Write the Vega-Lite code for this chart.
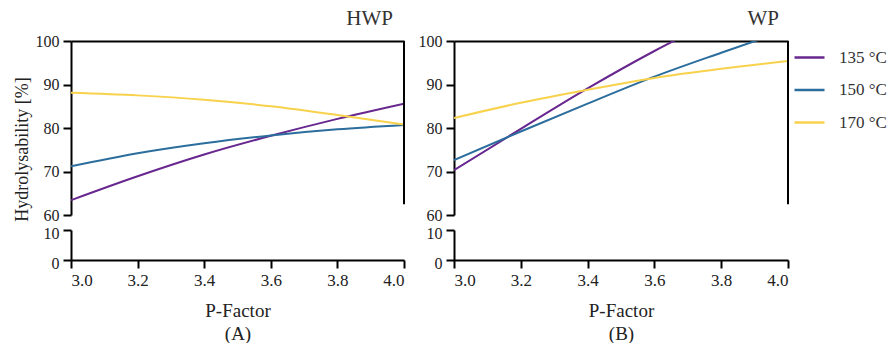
{
  "$schema": "https://vega.github.io/schema/vega-lite/v6.json",
  "padding": {"left": 13, "top": 8, "right": 0, "bottom": 0},
  "background": "white",
  "config": {
    "font": "Liberation Serif",
    "view": {"stroke": null},
    "axis": {"domainColor": "#000", "domainWidth": 2, "tickColor": "#000", "tickWidth": 2, "tickSize": 8, "labelFont": "Liberation Serif", "labelFontSize": 17, "labelColor": "#222", "titleFont": "Liberation Serif", "titleFontWeight": "normal", "titleColor": "#222", "grid": false, "labelPadding": 4},
    "title": {"font": "Liberation Serif", "fontSize": 21, "fontWeight": "normal", "color": "#333"},
    "legend": {"labelFont": "Liberation Serif"}
  },
  "datasets": {
    "d": [
      {"panel": "HWP", "temp": "135 °C", "p": 3.0, "value": 63.4},
      {"panel": "HWP", "temp": "135 °C", "p": 3.2, "value": 68.9},
      {"panel": "HWP", "temp": "135 °C", "p": 3.4, "value": 73.9},
      {"panel": "HWP", "temp": "135 °C", "p": 3.6, "value": 78.2},
      {"panel": "HWP", "temp": "135 °C", "p": 3.8, "value": 82.1},
      {"panel": "HWP", "temp": "135 °C", "p": 4.0, "value": 85.6},
      {"panel": "HWP", "temp": "150 °C", "p": 3.0, "value": 71.2},
      {"panel": "HWP", "temp": "150 °C", "p": 3.2, "value": 74.2},
      {"panel": "HWP", "temp": "150 °C", "p": 3.4, "value": 76.5},
      {"panel": "HWP", "temp": "150 °C", "p": 3.6, "value": 78.3},
      {"panel": "HWP", "temp": "150 °C", "p": 3.8, "value": 79.7},
      {"panel": "HWP", "temp": "150 °C", "p": 4.0, "value": 80.7},
      {"panel": "HWP", "temp": "170 °C", "p": 3.0, "value": 88.1},
      {"panel": "HWP", "temp": "170 °C", "p": 3.2, "value": 87.5},
      {"panel": "HWP", "temp": "170 °C", "p": 3.4, "value": 86.5},
      {"panel": "HWP", "temp": "170 °C", "p": 3.6, "value": 85.0},
      {"panel": "HWP", "temp": "170 °C", "p": 3.8, "value": 83.0},
      {"panel": "HWP", "temp": "170 °C", "p": 4.0, "value": 80.8},
      {"panel": "WP", "temp": "135 °C", "p": 3.0, "value": 70.3},
      {"panel": "WP", "temp": "135 °C", "p": 3.2, "value": 79.8},
      {"panel": "WP", "temp": "135 °C", "p": 3.4, "value": 89.1},
      {"panel": "WP", "temp": "135 °C", "p": 3.6, "value": 97.7},
      {"panel": "WP", "temp": "135 °C", "p": 3.8, "value": 105.5},
      {"panel": "WP", "temp": "135 °C", "p": 4.0, "value": 113.0},
      {"panel": "WP", "temp": "150 °C", "p": 3.0, "value": 72.6},
      {"panel": "WP", "temp": "150 °C", "p": 3.2, "value": 79.2},
      {"panel": "WP", "temp": "150 °C", "p": 3.4, "value": 85.6},
      {"panel": "WP", "temp": "150 °C", "p": 3.6, "value": 91.8},
      {"panel": "WP", "temp": "150 °C", "p": 3.8, "value": 97.3},
      {"panel": "WP", "temp": "150 °C", "p": 4.0, "value": 102.6},
      {"panel": "WP", "temp": "170 °C", "p": 3.0, "value": 82.3},
      {"panel": "WP", "temp": "170 °C", "p": 3.2, "value": 85.8},
      {"panel": "WP", "temp": "170 °C", "p": 3.4, "value": 88.8},
      {"panel": "WP", "temp": "170 °C", "p": 3.6, "value": 91.5},
      {"panel": "WP", "temp": "170 °C", "p": 3.8, "value": 93.6},
      {"panel": "WP", "temp": "170 °C", "p": 4.0, "value": 95.4}
    ]
  },
  "spacing": 13,
  "hconcat": [
    {
      "spacing": 2,
      "vconcat": [
        {
          "width": 333, "height": 174,
          "title": {"text": "HWP", "anchor": "end", "frame": "group", "dx": -11},
          "data": {"name": "d"},
          "transform": [{"filter": "datum.panel == 'HWP'"}],
          "layer": [
            {
              "mark": {"type": "line", "interpolate": "monotone", "strokeWidth": 2, "clip": true},
              "encoding": {
                "x": {"field": "p", "type": "quantitative", "scale": {"domain": [3, 4]}, "axis": {"orient": "top", "labels": false, "ticks": false, "title": null}},
                "y": {"field": "value", "type": "quantitative", "scale": {"domain": [60, 100]}, "axis": {"values": [60, 70, 80, 90, 100], "labelFont": "Liberation Serif", "labelFontSize": 16, "title": "Hydrolysability [%]", "titleFont": "Liberation Serif", "titleFontSize": 18, "titleY": 108, "titlePadding": 4}},
                "color": {"field": "temp", "type": "nominal", "scale": {"domain": ["135 °C", "150 °C", "170 °C"], "range": ["#67278f", "#2b6d9c", "#f8d24c"]}, "legend": {"title": null, "orient": "right", "symbolType": "stroke", "symbolSize": 900, "symbolStrokeWidth": 2.5, "labelFont": "Liberation Serif", "labelFontSize": 17, "labelColor": "#333", "labelOffset": 13, "rowPadding": 7.5, "offset": 4}}
              }
            },
            {
              "data": {"values": [{}]},
              "mark": {"type": "rule", "color": "#000", "strokeWidth": 2},
              "encoding": {"x": {"datum": 4, "type": "quantitative"}, "y": {"datum": 100, "type": "quantitative"}, "y2": {"datum": 62.5}}
            }
          ]
        },
        {
          "width": 333, "height": 30,
          "data": {"name": "d"},
          "transform": [{"filter": "datum.panel == 'HWP'"}],
          "mark": {"type": "line", "interpolate": "monotone", "strokeWidth": 2, "clip": true},
          "encoding": {
            "x": {"field": "p", "type": "quantitative", "scale": {"domain": [3, 4]}, "axis": {"values": [3, 3.2, 3.4, 3.6, 3.8, 4], "format": ".1f", "labelFont": "Liberation Serif", "labelFontSize": 17, "title": ["P-Factor", "(A)"], "titleFont": "Liberation Serif", "titleFontSize": 19, "titleLineHeight": 23, "titlePadding": 13}},
            "y": {"field": "value", "type": "quantitative", "scale": {"domain": [0, 10]}, "axis": {"values": [0, 10], "labelFont": "Liberation Serif", "labelFontSize": 16, "labelOffset": 3, "title": null}},
            "color": {"field": "temp", "type": "nominal", "scale": {"domain": ["135 °C", "150 °C", "170 °C"], "range": ["#67278f", "#2b6d9c", "#f8d24c"]}}
          }
        }
      ]
    },
    {
      "spacing": 2,
      "vconcat": [
        {
          "width": 334, "height": 174,
          "title": {"text": "WP", "anchor": "end", "frame": "group", "dx": -9},
          "data": {"name": "d"},
          "transform": [{"filter": "datum.panel == 'WP'"}],
          "layer": [
            {
              "mark": {"type": "line", "interpolate": "monotone", "strokeWidth": 2, "clip": true},
              "encoding": {
                "x": {"field": "p", "type": "quantitative", "scale": {"domain": [3, 4]}, "axis": {"orient": "top", "labels": false, "ticks": false, "title": null}},
                "y": {"field": "value", "type": "quantitative", "scale": {"domain": [60, 100]}, "axis": {"values": [60, 70, 80, 90, 100], "labelFont": "Liberation Serif", "labelFontSize": 16, "title": null}},
                "color": {"field": "temp", "type": "nominal", "scale": {"domain": ["135 °C", "150 °C", "170 °C"], "range": ["#67278f", "#2b6d9c", "#f8d24c"]}}
              }
            },
            {
              "data": {"values": [{}]},
              "mark": {"type": "rule", "color": "#000", "strokeWidth": 2},
              "encoding": {"x": {"datum": 4, "type": "quantitative"}, "y": {"datum": 100, "type": "quantitative"}, "y2": {"datum": 62.5}}
            }
          ]
        },
        {
          "width": 334, "height": 30,
          "data": {"name": "d"},
          "transform": [{"filter": "datum.panel == 'WP'"}],
          "mark": {"type": "line", "interpolate": "monotone", "strokeWidth": 2, "clip": true},
          "encoding": {
            "x": {"field": "p", "type": "quantitative", "scale": {"domain": [3, 4]}, "axis": {"values": [3, 3.2, 3.4, 3.6, 3.8, 4], "format": ".1f", "labelFont": "Liberation Serif", "labelFontSize": 17, "title": ["P-Factor", "(B)"], "titleFont": "Liberation Serif", "titleFontSize": 19, "titleLineHeight": 23, "titlePadding": 13}},
            "y": {"field": "value", "type": "quantitative", "scale": {"domain": [0, 10]}, "axis": {"values": [0, 10], "labelFont": "Liberation Serif", "labelFontSize": 16, "labelOffset": 3, "title": null}},
            "color": {"field": "temp", "type": "nominal", "scale": {"domain": ["135 °C", "150 °C", "170 °C"], "range": ["#67278f", "#2b6d9c", "#f8d24c"]}}
          }
        }
      ]
    }
  ]
}
